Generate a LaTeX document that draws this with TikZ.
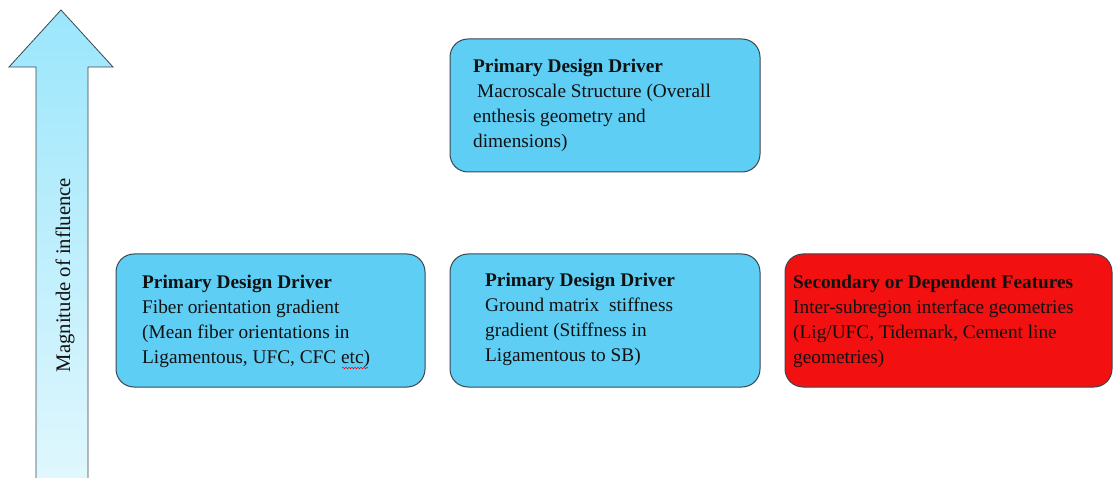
\documentclass[tikz,border=0pt]{standalone}
\usepackage{fontspec}
\setmainfont{Liberation Serif}
\usetikzlibrary{decorations.pathmorphing}
\definecolor{boxblue}{HTML}{5ECEF5}
\definecolor{boxred}{HTML}{F21010}
\definecolor{edgegray}{HTML}{3A4650}
\definecolor{arrtop}{HTML}{9BE6FC}
\definecolor{arrbot}{HTML}{E0F7FD}
\definecolor{ink}{HTML}{111111}
\begin{document}
\begin{tikzpicture}[x=1pt,y=-1pt,
  card/.style={draw=edgegray, line width=1pt, rounded corners=18pt, inner sep=0pt},
  txt/.style={anchor=base west, inner sep=0pt, align=left, text=ink,
              font=\fontsize{19.3}{25}\selectfont}]
\useasboundingbox (0,0) rectangle (1113,478);

% influence arrow
\shade[top color=arrtop, bottom color=arrbot]
  (36,479) -- (36,67) -- (9,67) -- (61,10) -- (113,67) -- (88,67) -- (88,479) -- cycle;
\draw[edgegray, line width=0.8pt, line join=miter]
  (36,479) -- (36,67) -- (9,67) -- (61,10) -- (113,67) -- (88,67) -- (88,479);
\node[rotate=90, text=ink, font=\fontsize{20.7}{24}\selectfont] (mag) at (65,275) {Magnitude of influence};

% boxes
\node[card, fill=boxblue, minimum width=310pt, minimum height=133pt] (top) at (605,105.5) {};
\node[card, fill=boxblue, minimum width=309pt, minimum height=133pt] (left) at (270.5,320.5) {};
\node[card, fill=boxblue, minimum width=310pt, minimum height=133pt] (mid) at (605,320.5) {};
\node[card, fill=boxred, minimum width=327pt, minimum height=133pt] (sec) at (948.5,320.5) {};

% texts (anchor = baseline of last line)
\node[txt] (toptext) at (473,148) {\textbf{Primary Design Driver}\\\hspace{4pt}Macroscale Structure (Overall\\enthesis geometry and\\dimensions)};
\node[txt] (lefttext) at (142,363) {\textbf{Primary Design Driver}\\Fiber orientation gradient\\(Mean fiber orientations in\\Ligamentous, UFC, CFC etc)};
\node[txt] (midtext) at (485,361) {\textbf{Primary Design Driver}\\Ground matrix\ \ stiffness\\gradient (Stiffness in\\Ligamentous to SB)};
\node[txt] (sectext) at (793,363) {\textbf{Secondary or Dependent Features}\\Inter-subregion interface geometries\\(Lig/UFC, Tidemark, Cement line\\geometries)};

% spell-check squiggle under "etc"
\coordinate (sq1) at (342,368);
\coordinate (sq2) at (368,368);
\draw[red, line width=0.5pt, decorate, decoration={snake, amplitude=0.8pt, segment length=3pt}] (sq1) -- (sq2);
\end{tikzpicture}
\end{document}
